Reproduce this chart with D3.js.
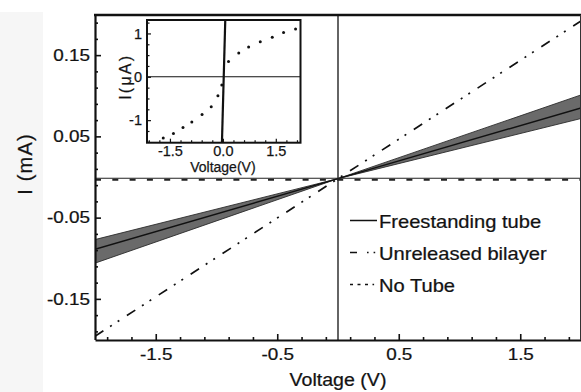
<!DOCTYPE html>
<html>
<head>
<meta charset="utf-8">
<script src="https://cdn.jsdelivr.net/npm/d3@7"></script>
<style>
  body { margin: 0; background: #fff; }
  svg { display: block; font-family: "Liberation Sans", Arial, sans-serif; }
  text { stroke: #222; stroke-width: 0.25; }
</style>
</head>
<body>
<div id="chart"></div>
<script>
// ---- main plot data (I in mA vs V) ----
const mainVolts = [-2, 0, 2];
const tubeMid = [-0.089, -0.002, 0.085];
const tubeLow = [-0.106, -0.002, 0.072];
const tubeHigh = [-0.077, -0.002, 0.101];
const bilayerVolts = [-2, 2];
const bilayerCurrent = [-0.196, 0.192];
const noTubeVolts = [-2, 2];
const noTubeCurrent = [-0.0035, -0.0035];
const baseCurrent = [-0.0015, -0.0015];
const xMajor = [-1.5, -0.5, 0.5, 1.5];
const yMajor = [0.15, 0.05, -0.05, -0.15];

// ---- inset data (I in uA) ----
const insetVolts = [-1.69, -1.40, -1.13, -0.88, -0.59, -0.33, -0.14, -0.03, 0.16, 0.45, 0.73, 1.06, 1.40, 1.72, 2.06];
const insetCurrent = [-1.41, -1.31, -1.17, -1.04, -0.87, -0.69, -0.44, -0.19, 0.35, 0.55, 0.69, 0.81, 0.91, 1.02, 1.10];
const steepVolts = [-0.026, 0.068];
const steepCurrent = [-1.52, 1.31];
const insetXMajor = [-1.5, 0, 1.5];
const insetYMajor = [1, 0, -1];

const legendItems = [
  {label: "Freestanding tube", dash: null},
  {label: "Unreleased bilayer", dash: "7,10,1.6,5,1.6"},
  {label: "No Tube", dash: "3,4.5,3,4.5,3,4.5,1.6"}
];

const W = 581, H = 392;
const svg = d3.select("#chart").append("svg").attr("width", W).attr("height", H);

// faint grey strip at the left edge of the scan
svg.append("rect").attr("x", 0).attr("y", 12).attr("width", 43).attr("height", H - 12).attr("fill", "#f6f6f6");

const plot = {left: 95, right: 581, top: 15, bottom: 340};
const x = d3.scaleLinear().domain([-2, 2]).range([plot.left, plot.right]);
const y = d3.scaleLinear().domain([-0.2, 0.2]).range([339.5, 14.5]);

svg.append("clipPath").attr("id", "clipMain").append("rect")
  .attr("x", plot.left).attr("y", plot.top)
  .attr("width", plot.right - plot.left).attr("height", plot.bottom - plot.top);

const g = svg.append("g").attr("clip-path", "url(#clipMain)");

// vertical line at V = 0
g.append("line")
  .attr("x1", x(0)).attr("x2", x(0)).attr("y1", plot.top).attr("y2", plot.bottom)
  .attr("stroke", "#111").attr("stroke-width", 1.3);

// freestanding tube band + line
const band = d3.area()
  .x((d, i) => x(mainVolts[i]))
  .y0((d, i) => y(tubeLow[i]))
  .y1((d, i) => y(tubeHigh[i]));
g.append("path").datum(mainVolts).attr("d", band)
  .attr("fill", "#6a6a6a").attr("stroke", "#2a2a2a").attr("stroke-width", 0.9);

const line = d3.line();
g.append("path")
  .attr("d", line(mainVolts.map((v, i) => [x(v), y(tubeMid[i])])))
  .attr("fill", "none").attr("stroke", "#111").attr("stroke-width", 1.4);

// no tube
g.append("path")
  .attr("d", line(noTubeVolts.map((v, i) => [x(v), y(baseCurrent[i])])))
  .attr("fill", "none").attr("stroke", "#222").attr("stroke-width", 1.1);
g.append("path")
  .attr("d", line(noTubeVolts.map((v, i) => [x(v), y(noTubeCurrent[i])])))
  .attr("fill", "none").attr("stroke", "#222").attr("stroke-width", 2)
  .attr("stroke-dasharray", "6,11.3");

// unreleased bilayer
g.append("path")
  .attr("d", line(bilayerVolts.map((v, i) => [x(v), y(bilayerCurrent[i])])))
  .attr("fill", "none").attr("stroke", "#111").attr("stroke-width", 1.7)
  .attr("stroke-dasharray", "10,8,2,7,2,9");

// ---- axes ----
const SX = 1.18;
function styleAxis(sel) {
  sel.select(".domain").attr("stroke", "#111").attr("stroke-width", 2.2);
  sel.selectAll(".tick line").attr("stroke", "#111").attr("stroke-width", 1.6);
  sel.selectAll(".tick text").attr("fill", "#111").attr("font-size", 16)
    .attr("transform", `scale(${SX},1)`);
}

const xMinor = d3.range(-19, 20, 2).map(d => d / 10).filter(d => !xMajor.includes(d));
const yMinor = d3.range(-19, 20, 2).map(d => d / 100).filter(d => !yMajor.includes(d));

svg.append("g").attr("transform", `translate(0,${plot.bottom})`)
  .call(d3.axisBottom(x).tickValues(xMinor).tickSize(-3).tickSizeOuter(0).tickFormat(""))
  .call(s => s.select(".domain").remove())
  .call(s => s.selectAll("line").attr("stroke", "#111").attr("stroke-width", 1.6));
svg.append("g").attr("transform", `translate(${plot.left},0)`)
  .call(d3.axisLeft(y).tickValues(yMinor).tickSize(-3).tickSizeOuter(0).tickFormat(""))
  .call(s => s.select(".domain").remove())
  .call(s => s.selectAll("line").attr("stroke", "#111").attr("stroke-width", 1.6));

svg.append("g").attr("transform", `translate(0,${plot.bottom})`)
  .call(d3.axisBottom(x).tickValues(xMajor).tickSize(-6).tickSizeOuter(0).tickPadding(9)
    .tickFormat(d => d.toFixed(1)))
  .call(styleAxis);
svg.append("g").attr("transform", `translate(${plot.left},0)`)
  .call(d3.axisLeft(y).tickValues(yMajor).tickSize(-6).tickSizeOuter(0).tickPadding(4.2)
    .tickFormat(d => d.toFixed(2)))
  .call(styleAxis);

// top and right frame
svg.append("line").attr("x1", plot.left - 1).attr("x2", plot.right).attr("y1", plot.top).attr("y2", plot.top)
  .attr("stroke", "#111").attr("stroke-width", 2.6);
svg.append("line").attr("x1", plot.right - 0.5).attr("x2", plot.right - 0.5).attr("y1", plot.top).attr("y2", plot.bottom)
  .attr("stroke", "#333").attr("stroke-width", 1);

// axis titles
svg.append("text")
  .attr("transform", `translate(${x(0)},386) scale(1.12,1)`)
  .attr("text-anchor", "middle").attr("font-size", 17.5).attr("fill", "#111")
  .text("Voltage (V)");
svg.append("text")
  .attr("transform", "translate(32,164) rotate(-90)")
  .attr("text-anchor", "middle").attr("font-size", 20).attr("letter-spacing", 1.2).attr("fill", "#111")
  .text("I (mA)");

// ---- legend ----
const leg = svg.append("g");
legendItems.forEach((d, i) => {
  const base = 228 + i * 32;
  leg.append("line")
    .attr("x1", 350).attr("x2", 377).attr("y1", base - 7.5).attr("y2", base - 7.5)
    .attr("stroke", "#111").attr("stroke-width", 1.5)
    .attr("stroke-dasharray", d.dash);
  leg.append("text")
    .attr("transform", `translate(379,${base}) scale(1.15,1)`)
    .attr("font-size", 17.5).attr("fill", "#111")
    .text(d.label);
});

// ---- inset ----
const ins = {left: 147, right: 300.5, top: 20, bottom: 142.7};
const ix = d3.scaleLinear().domain([-2.15, 2.2]).range([ins.left, ins.right]);
const iy = d3.scaleLinear().domain([-1.52, 1.31]).range([ins.bottom, ins.top]);

svg.append("rect")
  .attr("x", ins.left).attr("y", ins.top)
  .attr("width", ins.right - ins.left).attr("height", ins.bottom - ins.top)
  .attr("fill", "#fff");

const ig = svg.append("g");
ig.append("line")
  .attr("x1", ins.left).attr("x2", ins.right).attr("y1", iy(0)).attr("y2", iy(0))
  .attr("stroke", "#111").attr("stroke-width", 1.1);
ig.append("path")
  .attr("d", line(steepVolts.map((v, i) => [ix(v), iy(steepCurrent[i])])))
  .attr("stroke", "#111").attr("stroke-width", 2.2).attr("fill", "none");
ig.selectAll("circle").data(insetVolts).enter().append("circle")
  .attr("cx", d => ix(d))
  .attr("cy", (d, i) => iy(insetCurrent[i]))
  .attr("r", 1.5).attr("fill", "#111");

const ixMinor = d3.range(-2.1, 2.2, 0.3).map(d => +d.toFixed(1)).filter(d => !insetXMajor.includes(d));
const iyMinor = d3.range(-1.5, 1.3, 0.25).map(d => +d.toFixed(2)).filter(d => !insetYMajor.includes(d));

function styleInset(sel) {
  sel.select(".domain").remove();
  sel.selectAll(".tick line").attr("stroke", "#111").attr("stroke-width", 1.2);
  sel.selectAll(".tick text").attr("fill", "#111").attr("font-size", 14.5);
}
svg.append("g").attr("transform", `translate(0,${ins.bottom})`)
  .call(d3.axisBottom(ix).tickValues(ixMinor).tickSize(-2.5).tickFormat(""))
  .call(styleInset);
svg.append("g").attr("transform", `translate(${ins.left},0)`)
  .call(d3.axisLeft(iy).tickValues(iyMinor).tickSize(-2.5).tickFormat(""))
  .call(styleInset);
svg.append("g").attr("transform", `translate(0,${ins.bottom})`)
  .call(d3.axisBottom(ix).tickValues(insetXMajor).tickSize(-4).tickPadding(3).tickFormat(d => d.toFixed(1)))
  .call(styleInset);
svg.append("g").attr("transform", `translate(${ins.left},0)`)
  .call(d3.axisLeft(iy).tickValues(insetYMajor).tickSize(-4).tickPadding(5).tickFormat(d => String(d)))
  .call(styleInset);

svg.append("rect")
  .attr("x", ins.left).attr("y", ins.top)
  .attr("width", ins.right - ins.left).attr("height", ins.bottom - ins.top)
  .attr("fill", "none").attr("stroke", "#111").attr("stroke-width", 2);

svg.append("text")
  .attr("transform", `translate(${ix(0)},172)`)
  .attr("text-anchor", "middle").attr("font-size", 14).attr("fill", "#111")
  .text("Voltage(V)");
svg.append("text")
  .attr("transform", `translate(131,${iy(0)}) rotate(-90)`)
  .attr("text-anchor", "middle").attr("font-size", 16).attr("letter-spacing", 2.2).attr("fill", "#111")
  .text("I(μA)");
</script>
</body>
</html>
